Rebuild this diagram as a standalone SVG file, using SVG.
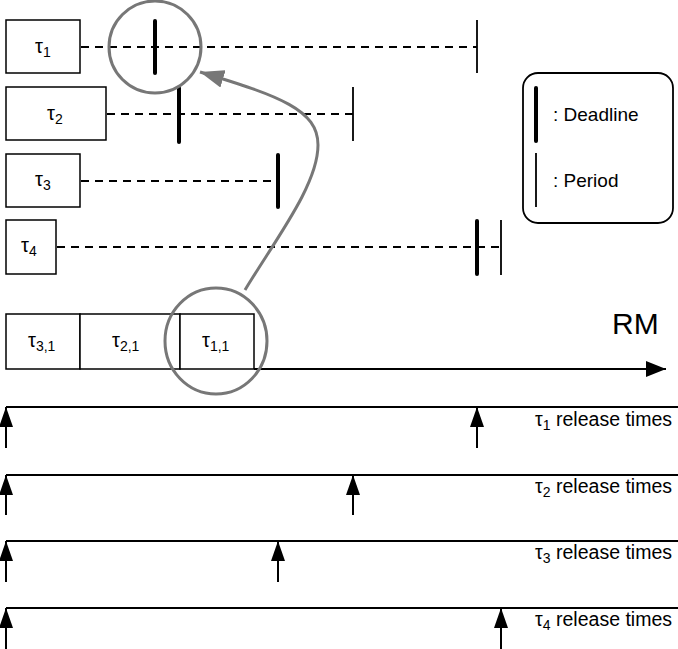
<svg xmlns="http://www.w3.org/2000/svg" width="678" height="649" viewBox="0 0 678 649">
<defs>
<style>
.box{fill:#fff;stroke:#000;stroke-width:1.5}
.dash{stroke:#000;stroke-width:2;stroke-dasharray:8 6;fill:none}
.dl{stroke:#000;stroke-width:4;stroke-linecap:round}
.pr{stroke:#000;stroke-width:1.8}
.ln{stroke:#000;stroke-width:2}
.t{font-family:"Liberation Sans",Arial,sans-serif;font-size:18px;fill:#000}
.b{font-size:20px}
.s{font-size:14px}
.gray{fill:none;stroke:#777;stroke-width:3}
</style>
<marker id="ah" markerWidth="20" markerHeight="14" refX="20" refY="7" viewBox="0 0 20 14" orient="auto" markerUnits="userSpaceOnUse">
<path d="M0,0 L20,7 L0,14 Z" fill="#000"/>
</marker>
<marker id="gh" markerWidth="24" markerHeight="18" refX="24" refY="9" viewBox="0 0 24 18" orient="auto" markerUnits="userSpaceOnUse">
<path d="M0,0 L24,9 L0,18 Z" fill="#777"/>
</marker>
<marker id="rh" markerWidth="20" markerHeight="16" refX="20" refY="8" viewBox="0 0 20 16" orient="auto" markerUnits="userSpaceOnUse">
<path d="M0,0 L20,8 L0,16 Z" fill="#000"/>
</marker>
</defs>
<rect width="678" height="649" fill="#fff"/>

<g id="tau1">
<rect class="box" x="6" y="20" width="74" height="53"/>
<text class="t b" x="35" y="53">τ<tspan class="s" dy="4">1</tspan></text>
</g>
<g id="tau2">
<rect class="box" x="6" y="87" width="100" height="53"/>
<text class="t b" x="47" y="120">τ<tspan class="s" dy="4">2</tspan></text>
</g>
<g id="tau3">
<rect class="box" x="6" y="154" width="74" height="53"/>
<text class="t b" x="35" y="186">τ<tspan class="s" dy="4">3</tspan></text>
</g>
<g id="tau4">
<rect class="box" x="6" y="220" width="50" height="54"/>
<text class="t b" x="21" y="252">τ<tspan class="s" dy="4">4</tspan></text>
</g>

<g id="timelines">
<line class="dash" x1="81" y1="47" x2="477" y2="47"/>
<line class="dl" x1="155" y1="21" x2="155" y2="73"/>
<line class="pr" x1="477" y1="20" x2="477" y2="73"/>

<line class="dash" x1="107" y1="114" x2="353" y2="114"/>
<line class="dl" x1="179" y1="88" x2="179" y2="142"/>
<line class="pr" x1="353" y1="87" x2="353" y2="141"/>

<line class="dash" x1="81" y1="181" x2="278" y2="181"/>
<line class="dl" x1="278" y1="155" x2="278" y2="207"/>

<line class="dash" x1="57" y1="247" x2="501" y2="247"/>
<line class="dl" x1="477" y1="221" x2="477" y2="274"/>
<line class="pr" x1="501" y1="220" x2="501" y2="275"/>
</g>

<g id="legend">
<rect x="523" y="73" width="150" height="150" rx="15" ry="15" fill="#fff" stroke="#000" stroke-width="1.8"/>
<line class="dl" x1="536" y1="88" x2="536" y2="141"/>
<line class="pr" x1="536" y1="153" x2="536" y2="207"/>
<text class="t" x="553" y="121" style="font-size:19px">: Deadline</text>
<text class="t" x="553" y="187" style="font-size:19px">: Period</text>
</g>

<g id="schedule">
<rect class="box" x="6" y="314" width="74" height="55"/>
<rect class="box" x="80" y="314" width="100" height="55"/>
<rect class="box" x="180" y="314" width="74" height="55"/>
<text class="t b" x="28" y="347">τ<tspan class="s" dy="4">3,1</tspan></text>
<text class="t b" x="112" y="347">τ<tspan class="s" dy="4">2,1</tspan></text>
<text class="t b" x="202" y="347">τ<tspan class="s" dy="4">1,1</tspan></text>
<line x1="254" y1="369" x2="666" y2="369" stroke="#000" stroke-width="2" marker-end="url(#rh)"/>
<text class="t" x="612" y="334" style="font-size:30px">RM</text>
</g>

<g id="highlights">
<circle class="gray" cx="155" cy="47" r="46"/>
<ellipse class="gray" cx="216" cy="341" rx="51" ry="53"/>
</g>

<g id="connectors">
<path class="gray" d="M245,290 C275,240 318,185 318,145 C318,110 280,96 200,72" marker-end="url(#gh)"/>
</g>

<g id="releases">
<line class="ln" x1="6" y1="407" x2="678" y2="407"/>
<line class="ln" x1="6" y1="448" x2="6" y2="407" marker-end="url(#ah)"/>
<line class="ln" x1="477" y1="448" x2="477" y2="407" marker-end="url(#ah)"/>
<text class="t" x="672" y="426" text-anchor="end" style="font-size:19.5px">τ<tspan class="s" dy="4">1</tspan><tspan dy="-4"> release times</tspan></text>

<line class="ln" x1="6" y1="475" x2="678" y2="475"/>
<line class="ln" x1="6" y1="515" x2="6" y2="475" marker-end="url(#ah)"/>
<line class="ln" x1="353" y1="515" x2="353" y2="475" marker-end="url(#ah)"/>
<text class="t" x="672" y="493" text-anchor="end" style="font-size:19.5px">τ<tspan class="s" dy="4">2</tspan><tspan dy="-4"> release times</tspan></text>

<line class="ln" x1="6" y1="541" x2="678" y2="541"/>
<line class="ln" x1="6" y1="582" x2="6" y2="541" marker-end="url(#ah)"/>
<line class="ln" x1="278" y1="582" x2="278" y2="541" marker-end="url(#ah)"/>
<text class="t" x="672" y="559" text-anchor="end" style="font-size:19.5px">τ<tspan class="s" dy="4">3</tspan><tspan dy="-4"> release times</tspan></text>

<line class="ln" x1="6" y1="608" x2="678" y2="608"/>
<line class="ln" x1="6" y1="649" x2="6" y2="608" marker-end="url(#ah)"/>
<line class="ln" x1="501" y1="649" x2="501" y2="608" marker-end="url(#ah)"/>
<text class="t" x="672" y="626" text-anchor="end" style="font-size:19.5px">τ<tspan class="s" dy="4">4</tspan><tspan dy="-4"> release times</tspan></text>
</g>
</svg>
